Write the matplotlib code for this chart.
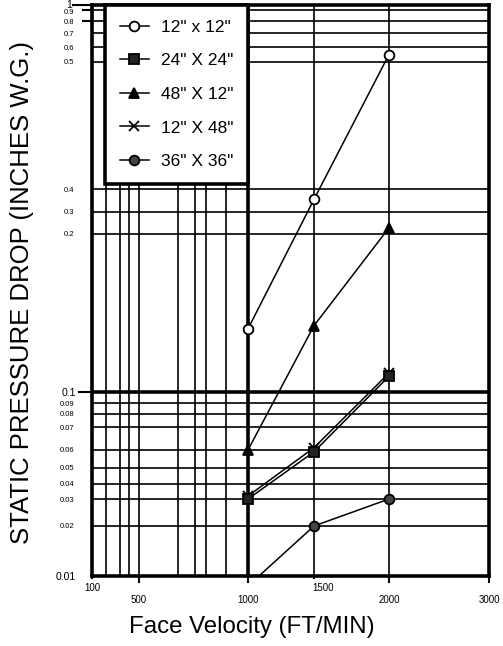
import numpy as np
import matplotlib
matplotlib.use("Agg")
import matplotlib.pyplot as plt
from matplotlib.transforms import ScaledTranslation

plt.rcParams["font.family"] = ["Liberation Sans", "DejaVu Sans"]

# data (face velocity ft/min -> pressure drop in. w.g.)
velocity = [1000, 1500, 2000]
drop_12x12 = [0.14, 0.355, 0.55]
drop_24x24 = [0.03, 0.059, 0.11]
drop_48x12 = [0.06, 0.142, 0.228]
drop_12x48 = [0.032, 0.061, 0.112]
drop_36x36 = [0.008, 0.02, 0.03]
series_labels = ['12" x 12"', '24" X 24"', '48" X 12"', '12" X 48"', '36" X 36"']

x_grid = [100, 200, 300, 400, 500, 600, 700, 800, 900, 1000, 1500, 2000, 3000]
x_major = [500, 1000, 2000, 3000]
x_minor = [100, 1500]
y_grid = [0.01, 0.02, 0.03, 0.04, 0.05, 0.06, 0.07, 0.08, 0.09, 0.1,
          0.2, 0.3, 0.4, 0.5, 0.6, 0.7, 0.8, 0.9, 1.0]
y_major = [0.01, 0.1, 1.0]
y_major_labels = ["0.01", "0.1", "1"]
y_minor = [v for v in y_grid if v not in y_major]
y_minor_labels = [f"{v:g}" for v in y_minor]

# the printed chart uses an irregular paper scale; rebuild it piecewise
X_KNOTS = [0, 100, 200, 300, 400, 500, 600, 700, 800, 900, 1000, 1500, 2000, 3000, 4000]
X_POS = [-14, 0, 14, 28, 37, 47, 86, 103, 114, 134, 156, 222, 297, 397, 497]
Y_KNOTS = [0, 0.01, 0.02, 0.03, 0.04, 0.05, 0.06, 0.07, 0.08, 0.09, 0.1,
           0.2, 0.3, 0.4, 0.5, 0.6, 0.7, 0.8, 0.9, 1.0, 2.0]
Y_POS = [-50, 0, 50, 77, 92, 108, 126, 149, 162, 173, 184,
         342, 364, 387, 514, 529, 543, 555, 566, 571, 600]


def fwd_x(v):
    return np.interp(v, X_KNOTS, X_POS)


def inv_x(p):
    return np.interp(p, X_POS, X_KNOTS)


def fwd_y(v):
    return np.interp(v, Y_KNOTS, Y_POS)


def inv_y(p):
    return np.interp(p, Y_POS, Y_KNOTS)


def nudge(text, dx_px, dy_px):
    text.set_transform(text.get_transform()
                       + ScaledTranslation(dx_px / 100, dy_px / 100, fig.dpi_scale_trans))


fig = plt.figure(figsize=(5.03, 6.46), dpi=100)
ax = fig.add_axes([92 / 503, 70 / 646, 397 / 503, 571 / 646])
ax.set_xscale("function", functions=(fwd_x, inv_x))
ax.set_yscale("function", functions=(fwd_y, inv_y))
ax.set_xlim(100, 3000)
ax.set_ylim(0.01, 1.0)

for v in x_grid:
    ax.axvline(v, color="k", lw=2.6 if v == 1000 else 1.2, zorder=1)
for v in y_grid:
    ax.axhline(v, color="k", lw=2.6 if v == 0.1 else 1.2, zorder=1)

line_kw = dict(color="k", lw=1.1, mec="k", mew=1.3)
ax.plot(velocity, drop_12x12, marker="o", ms=7, mfc="white", label=series_labels[0], zorder=3, **line_kw)
ax.plot(velocity, drop_24x24, marker="s", ms=6.5, mfc="#222222", label=series_labels[1], zorder=4, **line_kw)
ax.plot(velocity, drop_48x12, marker="^", ms=7.5, mfc="k", label=series_labels[2], zorder=3, **line_kw)
ax.plot(velocity, drop_12x48, marker="x", ms=7, label=series_labels[3], zorder=3, **line_kw)
ax.plot(velocity, drop_36x36, marker="o", ms=7, mfc="#444444", label=series_labels[4], zorder=3, **line_kw)

for s in ax.spines.values():
    s.set_linewidth(2.6)
    s.set_zorder(5)

ax.set_xticks(x_major)
ax.set_xticklabels([str(v) for v in x_major])
ax.set_xticks(x_minor, minor=True)
ax.set_xticklabels([str(v) for v in x_minor], minor=True)
ax.tick_params(axis="x", which="major", length=5, width=1.5, pad=9, labelsize=7)
ax.tick_params(axis="x", which="minor", length=2, width=1.5, pad=3, labelsize=7)

ax.set_yticks(y_major)
ax.set_yticklabels(y_major_labels)
ax.set_yticks(y_minor, minor=True)
ax.set_yticklabels(y_minor_labels, minor=True)
ax.tick_params(axis="y", which="major", length=10, width=1.5, pad=1.5, labelsize=7.5)
ax.tick_params(axis="y", which="minor", length=0, width=1.5, pad=13, labelsize=5.5)

# per-tick tweaks to match the printed scale
ax.yaxis.get_major_ticks()[0].tick1line.set_visible(False)
top_tick = ax.yaxis.get_major_ticks()[2]
top_tick.tick1line.set_markersize(14.5)
nudge(top_tick.label1, -4, 1.5)
for t, v in zip(ax.yaxis.get_minor_ticks(), y_minor):
    if v in (0.8, 0.9):
        t.tick1line.set_markersize(7)
        t.tick1line.set_markeredgewidth(1.5)
    if v == 0.9:
        nudge(t.label1, 0, -2)
nudge(ax.xaxis.get_minor_ticks()[1].label1, 9, 0)

leg = ax.legend(loc="upper left", bbox_to_anchor=(13 / 397, 1.0), borderaxespad=0,
                fancybox=False, edgecolor="k", framealpha=1, fontsize=12.5,
                handlelength=1.67, handletextpad=0.7, labelspacing=1.06, borderpad=0.85)
leg.get_frame().set_linewidth(2.6)
leg.set_zorder(6)

fig.text(22 / 503, 1 - 292 / 646, "STATIC PRESSURE DROP (INCHES W.G.)", rotation=90,
         ha="center", va="center", fontsize=18.5)
fig.text(252 / 503, 1 - 627 / 646, "Face Velocity (FT/MIN)", ha="center", va="center", fontsize=17.3)

fig.savefig("out.png", dpi=100)
